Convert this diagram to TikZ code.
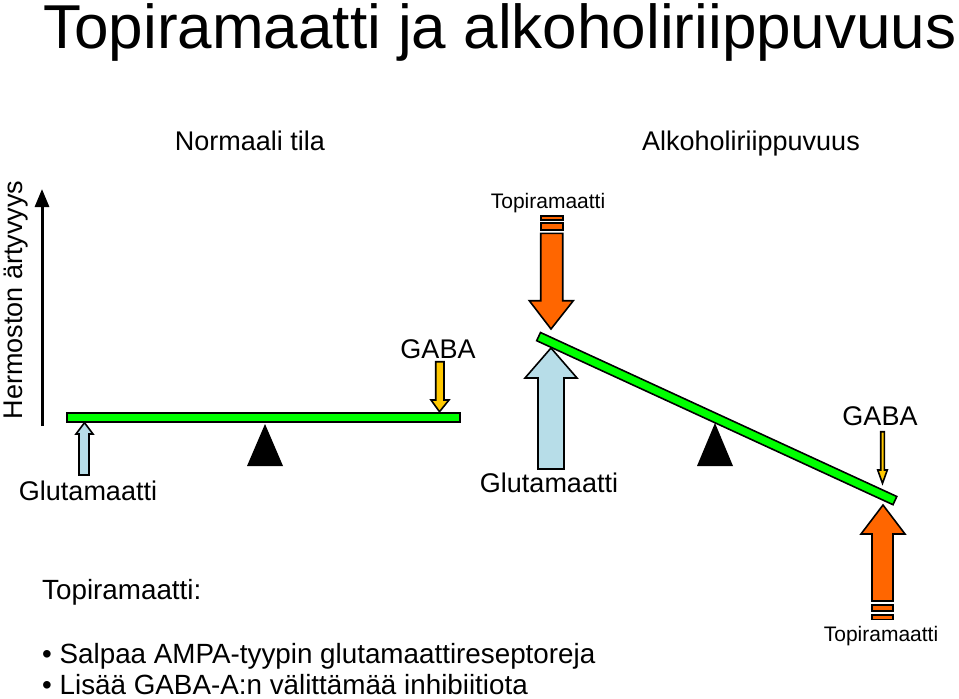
\documentclass[tikz,border=0pt]{standalone}
\usepackage{fontspec}
\setmainfont{Liberation Sans}
\usetikzlibrary{arrows.meta}
\definecolor{beamgreen}{RGB}{0,255,0}
\definecolor{topiorange}{RGB}{255,102,0}
\definecolor{glublue}{RGB}{183,221,232}
\definecolor{gabagold}{RGB}{255,200,0}
\begin{document}
\begin{tikzpicture}[x=1pt,y=-1pt,
  lbl/.style={anchor=base,inner sep=0pt,font=\fontsize{27}{32}\selectfont},
  smalllbl/.style={anchor=base,inner sep=0pt,font=\fontsize{21}{25}\selectfont},
  sumlbl/.style={anchor=base west,inner sep=0pt,font=\fontsize{27.8}{32}\selectfont},
  blk/.style={draw,line width=1.6pt,line join=miter}]
\useasboundingbox (0,0) rectangle (959,699);
\node[anchor=base,inner sep=0pt,font=\fontsize{62}{70}\selectfont] (title) at (500,48) {Topiramaatti ja alkoholiriippuvuus};
\node[lbl] (normal) at (250,150) {Normaali tila};
\node[lbl] (alcohol) at (751,150) {Alkoholiriippuvuus};
% axis
\node[lbl,rotate=90] (axis) at (22,300) {Hermoston ärtyvyys};
\coordinate (axisbot) at (42,426);
\coordinate (axistop) at (42,189);
\draw[line width=3pt,-{Triangle[length=18pt,width=14pt]}] (axisbot) -- (axistop);
% normal state
\draw[blk,fill=beamgreen] (67,413) rectangle (460,422);
\fill (265,424) -- (283,466) -- (247,466) -- cycle;
\draw[blk,fill=glublue] (79,475) -- (79,434) -- (76,434) -- (84.5,422.7) -- (93,434) -- (89,434) -- (89,475) -- cycle;
\draw[blk,fill=gabagold] (435.7,361.7) -- (444,361.7) -- (444,400) -- (449,400) -- (439.5,411.7) -- (431,400) -- (435.7,400) -- cycle;
\node[lbl] (gaba1) at (438,358) {GABA};
\node[lbl] (glu1) at (88,500) {Glutamaatti};
% dependence
\draw[blk,fill=beamgreen] (540.5,332.5) -- (896.8,496.5) -- (893,504.7) -- (536.7,340.7) -- cycle;
\fill (715,423) -- (733,466) -- (697,466) -- cycle;
\node[smalllbl] (topi1) at (548,208) {Topiramaatti};
\draw[blk,fill=topiorange] (540.7,216) rectangle (562.7,220);
\draw[blk,fill=topiorange] (540.7,222.7) rectangle (562.7,230);
\draw[blk,fill=topiorange] (540.7,233.3) -- (562.7,233.3) -- (562.7,300.7) -- (573.3,300.7) -- (551,329) -- (529.3,300.7) -- (540.7,300.7) -- cycle;
\draw[blk,fill=glublue] (538,469) -- (538,378) -- (525,378) -- (551,348) -- (577,378) -- (564,378) -- (564,469) -- cycle;
\node[lbl] (glu2) at (549,492) {Glutamaatti};
\node[lbl] (gaba2) at (880,425) {GABA};
\draw[blk,fill=gabagold] (880.7,431.7) -- (884.3,431.7) -- (884.3,470) -- (887.3,470) -- (882.5,483.3) -- (877.7,470) -- (880.7,470) -- cycle;
\draw[blk,fill=topiorange] (872,601) -- (872,534) -- (861,534) -- (883,505) -- (905,534) -- (893,534) -- (893,601) -- cycle;
\draw[blk,fill=topiorange] (872,605) rectangle (893,611);
\draw[blk,fill=topiorange] (872,615) rectangle (893,619.3);
\node[smalllbl] (topi2) at (881,641) {Topiramaatti};
% summary
\node[sumlbl] (summary) at (42,599) {Topiramaatti:};
\node[sumlbl] (item1) at (42,663) {• Salpaa AMPA-tyypin glutamaattireseptoreja};
\node[sumlbl] (item2) at (42,694) {• Lisää GABA-A:n välittämää inhibiitiota};
\end{tikzpicture}
\end{document}
